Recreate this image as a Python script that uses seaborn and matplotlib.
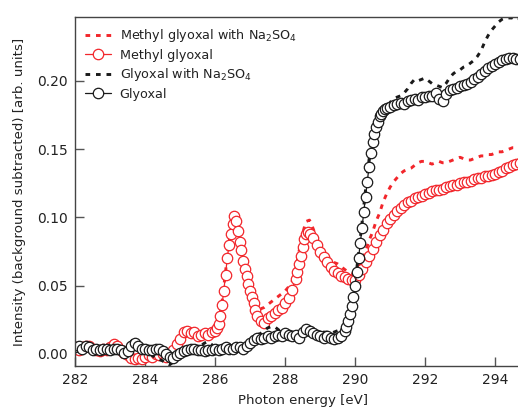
import numpy as np
import pandas as pd
import matplotlib
matplotlib.use("Agg")
import matplotlib.pyplot as plt
import seaborn as sns
from matplotlib.lines import Line2D

# ---------------- data ----------------
# Glyoxal (black open circles)
g_x = [282.0, 282.1, 282.2, 282.3, 282.4, 282.5, 282.6, 282.7, 282.8, 282.9,
       283.0, 283.1, 283.2, 283.3, 283.4, 283.5, 283.6, 283.7, 283.8, 283.9,
       284.0, 284.1, 284.2, 284.3, 284.4, 284.5, 284.6, 284.7, 284.8, 284.9,
       285.0, 285.1, 285.2, 285.3, 285.4, 285.5, 285.6, 285.7, 285.8, 285.9,
       286.0, 286.1, 286.2, 286.3, 286.4, 286.5, 286.6, 286.7, 286.8, 286.9,
       287.0, 287.1, 287.2, 287.3, 287.4, 287.5, 287.6, 287.7, 287.8, 287.9,
       288.0, 288.1, 288.2, 288.3, 288.4, 288.5, 288.6, 288.7, 288.8, 288.9,
       289.0, 289.1, 289.2, 289.3, 289.4, 289.5, 289.6, 289.7, 289.75, 289.8,
       289.85, 289.9, 289.95, 290.0, 290.05, 290.1, 290.15, 290.2, 290.25, 290.3,
       290.35, 290.4, 290.45, 290.5, 290.55, 290.6, 290.65, 290.7, 290.75, 290.8,
       290.85, 290.9, 291.0, 291.1, 291.2, 291.3, 291.4, 291.5, 291.6, 291.7,
       291.8, 291.9, 292.0, 292.1, 292.2, 292.3, 292.4, 292.5, 292.6, 292.7,
       292.8, 292.9, 293.0, 293.1, 293.2, 293.3, 293.4, 293.5, 293.6, 293.7,
       293.8, 293.9, 294.0, 294.1, 294.2, 294.3, 294.4, 294.5, 294.6, 294.7]
g_y = [0.005, 0.006, 0.004, 0.006, 0.005, 0.003, 0.004, 0.003, 0.004, 0.004,
       0.003, 0.004, 0.004, 0.003, 0.001, 0.002, 0.006, 0.008, 0.006, 0.004,
       0.004, 0.003, 0.003, 0.004, 0.004, 0.002, 0.000, -0.002, -0.003, -0.001,
       0.001, 0.002, 0.003, 0.004, 0.004, 0.003, 0.003, 0.002, 0.003, 0.003,
       0.004, 0.003, 0.004, 0.005, 0.004, 0.004, 0.005, 0.005, 0.004, 0.006,
       0.008, 0.010, 0.012, 0.011, 0.012, 0.013, 0.012, 0.013, 0.014, 0.013,
       0.015, 0.014, 0.013, 0.014, 0.012, 0.016, 0.018, 0.017, 0.015, 0.014,
       0.013, 0.012, 0.013, 0.012, 0.011, 0.012, 0.013, 0.017, 0.020, 0.024,
       0.029, 0.035, 0.042, 0.050, 0.060, 0.070, 0.081, 0.092, 0.104, 0.115,
       0.126, 0.137, 0.147, 0.155, 0.161, 0.166, 0.170, 0.174, 0.176, 0.178,
       0.179, 0.180, 0.181, 0.182, 0.183, 0.184, 0.183, 0.185, 0.186, 0.187,
       0.186, 0.188, 0.188, 0.189, 0.189, 0.191, 0.187, 0.185, 0.190, 0.193,
       0.194, 0.195, 0.196, 0.197, 0.198, 0.199, 0.201, 0.203, 0.205, 0.207,
       0.209, 0.211, 0.212, 0.214, 0.215, 0.216, 0.217, 0.217, 0.216, 0.216]

# Glyoxal with Na2SO4 (black dotted)
gna_x = [282.0, 282.1, 282.2, 282.3, 282.4, 282.5, 282.6, 282.7, 282.8, 282.9,
         283.0, 283.1, 283.2, 283.3, 283.4, 283.5, 283.6, 283.7, 283.8, 283.9,
         284.0, 284.1, 284.2, 284.3, 284.4, 284.5, 284.6, 284.7, 284.8, 284.9,
         285.0, 285.1, 285.2, 285.3, 285.4, 285.5, 285.6, 285.7, 285.8, 285.9,
         286.0, 286.1, 286.2, 286.3, 286.4, 286.5, 286.6, 286.7, 286.8, 286.9,
         287.0, 287.1, 287.2, 287.3, 287.4, 287.5, 287.6, 287.7, 287.8, 287.9,
         288.0, 288.1, 288.2, 288.3, 288.4, 288.5, 288.6, 288.7, 288.8, 288.9,
         289.0, 289.1, 289.2, 289.3, 289.4, 289.5, 289.6, 289.7, 289.8, 289.9,
         290.0, 290.1, 290.2, 290.3, 290.4, 290.5, 290.6, 290.7, 290.8, 290.9,
         291.0, 291.1, 291.2, 291.3, 291.4, 291.5, 291.6, 291.7, 291.8, 291.9,
         292.0, 292.1, 292.2, 292.3, 292.4, 292.5, 292.6, 292.7, 292.8, 292.9,
         293.0, 293.1, 293.2, 293.3, 293.4, 293.5, 293.6, 293.7, 293.8, 293.9,
         294.0, 294.1, 294.2, 294.3, 294.4, 294.5, 294.6, 294.7]
gna_y = [0.005, 0.004, 0.006, 0.005, 0.004, 0.004, 0.003, 0.004, 0.003, 0.005,
         0.004, 0.003, 0.001, 0.002, 0.003, 0.006, 0.009, 0.012, 0.007, 0.004,
         0.002, 0.001, -0.001, -0.003, -0.004, -0.005, -0.007, -0.008, -0.006, -0.002,
         0.001, 0.003, 0.004, 0.003, 0.004, 0.005, 0.006, 0.008, 0.009, 0.007,
         0.005, 0.004, 0.005, 0.005, 0.004, 0.005, 0.005, 0.006, 0.006, 0.008,
         0.010, 0.012, 0.014, 0.015, 0.017, 0.019, 0.020, 0.020, 0.018, 0.016,
         0.015, 0.016, 0.015, 0.014, 0.015, 0.017, 0.018, 0.017, 0.016, 0.016,
         0.015, 0.016, 0.016, 0.015, 0.016, 0.017, 0.018, 0.021, 0.027, 0.037,
         0.052, 0.073, 0.096, 0.120, 0.142, 0.158, 0.168, 0.175, 0.179, 0.182,
         0.184, 0.187, 0.188, 0.189, 0.191, 0.194, 0.198, 0.201, 0.200, 0.201,
         0.202, 0.200, 0.198, 0.197, 0.196, 0.195, 0.198, 0.202, 0.205, 0.207,
         0.208, 0.210, 0.211, 0.213, 0.215, 0.218, 0.222, 0.228, 0.233, 0.237,
         0.240, 0.243, 0.245, 0.246, 0.246, 0.246, 0.244, 0.245]

# Methyl glyoxal (red open circles)
mg_x = [282.0, 282.1, 282.2, 282.3, 282.4, 282.5, 282.6, 282.7, 282.8, 282.9,
        283.0, 283.1, 283.2, 283.3, 283.4, 283.5, 283.6, 283.7, 283.8, 283.9,
        284.0, 284.1, 284.2, 284.3, 284.4, 284.5, 284.6, 284.7, 284.8, 284.9,
        285.0, 285.1, 285.2, 285.3, 285.4, 285.5, 285.6, 285.7, 285.8, 285.9,
        286.0, 286.05, 286.1, 286.15, 286.2, 286.25, 286.3, 286.35, 286.4, 286.45,
        286.5, 286.55, 286.6, 286.65, 286.7, 286.75, 286.8, 286.85, 286.9, 286.95,
        287.0, 287.05, 287.1, 287.15, 287.2, 287.3, 287.4, 287.5, 287.6, 287.7,
        287.8, 287.9, 288.0, 288.1, 288.2, 288.3, 288.35, 288.4, 288.45, 288.5,
        288.55, 288.6, 288.65, 288.7, 288.8, 288.9, 289.0, 289.1, 289.2, 289.3,
        289.4, 289.5, 289.6, 289.7, 289.8, 289.9, 290.0, 290.1, 290.2, 290.3,
        290.4, 290.5, 290.6, 290.7, 290.8, 290.9, 291.0, 291.1, 291.2, 291.3,
        291.4, 291.5, 291.6, 291.7, 291.8, 291.9, 292.0, 292.1, 292.2, 292.3,
        292.4, 292.5, 292.6, 292.7, 292.8, 292.9, 293.0, 293.1, 293.2, 293.3,
        293.4, 293.5, 293.6, 293.7, 293.8, 293.9, 294.0, 294.1, 294.2, 294.3,
        294.4, 294.5, 294.6, 294.7]
mg_y = [0.005, 0.003, 0.005, 0.006, 0.006, 0.004, 0.003, 0.002, 0.004, 0.003,
        0.005, 0.007, 0.006, 0.003, 0.001, -0.001, -0.003, -0.004, -0.003, -0.004,
        -0.002, -0.001, -0.002, 0.000, -0.001, 0.000, -0.002, 0.000, 0.003, 0.007,
        0.011, 0.016, 0.017, 0.015, 0.016, 0.013, 0.014, 0.015, 0.014, 0.016,
        0.017, 0.019, 0.022, 0.028, 0.036, 0.046, 0.058, 0.070, 0.080, 0.088,
        0.095, 0.101, 0.097, 0.090, 0.082, 0.076, 0.068, 0.062, 0.057, 0.051,
        0.046, 0.042, 0.037, 0.032, 0.028, 0.024, 0.023, 0.026, 0.028, 0.030,
        0.032, 0.034, 0.037, 0.041, 0.047, 0.055, 0.060, 0.066, 0.072, 0.078,
        0.084, 0.088, 0.089, 0.088, 0.085, 0.080, 0.075, 0.071, 0.067, 0.064,
        0.061, 0.059, 0.057, 0.056, 0.055, 0.054, 0.054, 0.058, 0.062, 0.067,
        0.072, 0.077, 0.082, 0.087, 0.091, 0.096, 0.099, 0.102, 0.105, 0.107,
        0.109, 0.111, 0.112, 0.114, 0.115, 0.116, 0.117, 0.118, 0.119, 0.120,
        0.120, 0.121, 0.122, 0.123, 0.124, 0.124, 0.125, 0.126, 0.126, 0.127,
        0.128, 0.129, 0.129, 0.130, 0.130, 0.131, 0.132, 0.133, 0.134, 0.136,
        0.137, 0.138, 0.139, 0.140]

# Methyl glyoxal with Na2SO4 (red dotted)
mgna_x = [282.0, 282.1, 282.2, 282.3, 282.4, 282.5, 282.6, 282.7, 282.8, 282.9,
          283.0, 283.1, 283.2, 283.3, 283.4, 283.5, 283.6, 283.7, 283.8, 283.9,
          284.0, 284.1, 284.2, 284.3, 284.4, 284.5, 284.6, 284.7, 284.8, 284.9,
          285.0, 285.1, 285.2, 285.3, 285.4, 285.5, 285.6, 285.7, 285.8, 285.9,
          286.0, 286.1, 286.2, 286.3, 286.4, 286.5, 286.6, 286.7, 286.8, 286.9,
          287.0, 287.1, 287.2, 287.3, 287.4, 287.5, 287.6, 287.7, 287.8, 287.9,
          288.0, 288.1, 288.2, 288.3, 288.4, 288.5, 288.6, 288.7, 288.8, 288.9,
          289.0, 289.1, 289.2, 289.3, 289.4, 289.5, 289.6, 289.7, 289.8, 289.9,
          290.0, 290.1, 290.2, 290.3, 290.4, 290.5, 290.6, 290.7, 290.8, 290.9,
          291.0, 291.1, 291.2, 291.3, 291.4, 291.5, 291.6, 291.7, 291.8, 291.9,
          292.0, 292.1, 292.2, 292.3, 292.4, 292.5, 292.6, 292.7, 292.8, 292.9,
          293.0, 293.1, 293.2, 293.3, 293.4, 293.5, 293.6, 293.7, 293.8, 293.9,
          294.0, 294.1, 294.2, 294.3, 294.4, 294.5, 294.6, 294.7]
mgna_y = [0.005, 0.004, 0.006, 0.005, 0.005, 0.004, 0.003, 0.003, 0.004, 0.004,
          0.005, 0.006, 0.005, 0.003, 0.001, 0.000, -0.002, -0.003, -0.002, -0.003,
          -0.002, -0.001, -0.001, 0.000, 0.000, 0.000, -0.001, 0.001, 0.004, 0.008,
          0.012, 0.016, 0.016, 0.015, 0.015, 0.014, 0.014, 0.015, 0.015, 0.016,
          0.018, 0.022, 0.038, 0.060, 0.082, 0.096, 0.098, 0.085, 0.070, 0.058,
          0.049, 0.041, 0.035, 0.033, 0.034, 0.036, 0.038, 0.040, 0.042, 0.044,
          0.046, 0.049, 0.053, 0.061, 0.075, 0.088, 0.097, 0.098, 0.092, 0.085,
          0.079, 0.075, 0.072, 0.069, 0.067, 0.066, 0.064, 0.062, 0.060, 0.059,
          0.059, 0.063, 0.068, 0.075, 0.083, 0.089, 0.097, 0.103, 0.111, 0.117,
          0.122, 0.126, 0.129, 0.132, 0.134, 0.135, 0.136, 0.138, 0.140, 0.141,
          0.141, 0.140, 0.139, 0.140, 0.141, 0.140, 0.140, 0.141, 0.142, 0.143,
          0.144, 0.143, 0.142, 0.142, 0.143, 0.144, 0.145, 0.145, 0.146, 0.146,
          0.147, 0.148, 0.148, 0.149, 0.150, 0.151, 0.151, 0.152]

labels = ["Methyl glyoxal with Na$_2$SO$_4$", "Methyl glyoxal",
          "Glyoxal with Na$_2$SO$_4$", "Glyoxal"]
x_ticks = [282, 284, 286, 288, 290, 292, 294]
y_ticks = [0.00, 0.05, 0.10, 0.15, 0.20]

# ---------------- plot ----------------
sns.set_theme(style="white")
plt.rcParams['font.family'] = ['DejaVu Sans']
plt.rcParams['mathtext.fontset'] = 'dejavusans'

fig = plt.figure(figsize=(5.18, 4.08), dpi=100)
ax = fig.add_axes([75/518, 42/408, 455/518, 349/408])

RED = '#f2262b'
BLK = '#1a1a1a'
dot = (0, (1.6, 2.0))
DLW = 2.1

sns.lineplot(x=mgna_x, y=mgna_y, ax=ax, color=RED, lw=DLW, linestyle=dot, sort=False)
sns.lineplot(x=mg_x, y=mg_y, ax=ax, color=RED, lw=0.9, marker='o', markersize=7.5,
             markerfacecolor='white', markeredgecolor=RED, markeredgewidth=0.9, sort=False)
sns.lineplot(x=gna_x, y=gna_y, ax=ax, color=BLK, lw=DLW, linestyle=dot, sort=False)
sns.lineplot(x=g_x, y=g_y, ax=ax, color=BLK, lw=0.9, marker='o', markersize=7.5,
             markerfacecolor='white', markeredgecolor=BLK, markeredgewidth=0.9, sort=False)

ax.set_xlim(282, 295)
ax.set_ylim(-0.0088, 0.2467)
ax.set_xticks(x_ticks)
ax.set_xticklabels([str(t) for t in x_ticks])
ax.set_yticks(y_ticks)
ax.set_yticklabels([f"{t:.2f}" for t in y_ticks])

for s in ['left', 'bottom', 'top']:
    ax.spines[s].set_visible(True)
    ax.spines[s].set_color('#444444')
    ax.spines[s].set_linewidth(1.0)
ax.spines['right'].set_visible(False)

ax.tick_params(axis='both', direction='in', length=6.5, width=1.0, color='#555555',
               labelsize=10, labelcolor='#222222', pad=5,
               bottom=True, left=True, top=False, right=False)

ax.set_xlabel("Photon energy [eV]", fontsize=9.6, color='#222222', labelpad=5)
ax.set_ylabel("Intensity (background subtracted) [arb. units]", fontsize=9.6,
              color='#222222', labelpad=8)

handles = [
    Line2D([], [], color=RED, lw=DLW, linestyle=dot),
    Line2D([], [], color=RED, lw=0.9, marker='o', markersize=7.5,
           markerfacecolor='white', markeredgecolor=RED, markeredgewidth=0.9),
    Line2D([], [], color=BLK, lw=DLW, linestyle=dot),
    Line2D([], [], color=BLK, lw=0.9, marker='o', markersize=7.5,
           markerfacecolor='white', markeredgecolor=BLK, markeredgewidth=0.9),
]
leg = ax.legend(handles, labels, loc='upper left', frameon=False, fontsize=9.2,
                handlelength=2.0, handletextpad=0.7, labelspacing=0.35,
                borderaxespad=0.4, bbox_to_anchor=(0.0, 1.0))
for t in leg.get_texts():
    t.set_color('#222222')

fig.savefig("out.png", dpi=100)
